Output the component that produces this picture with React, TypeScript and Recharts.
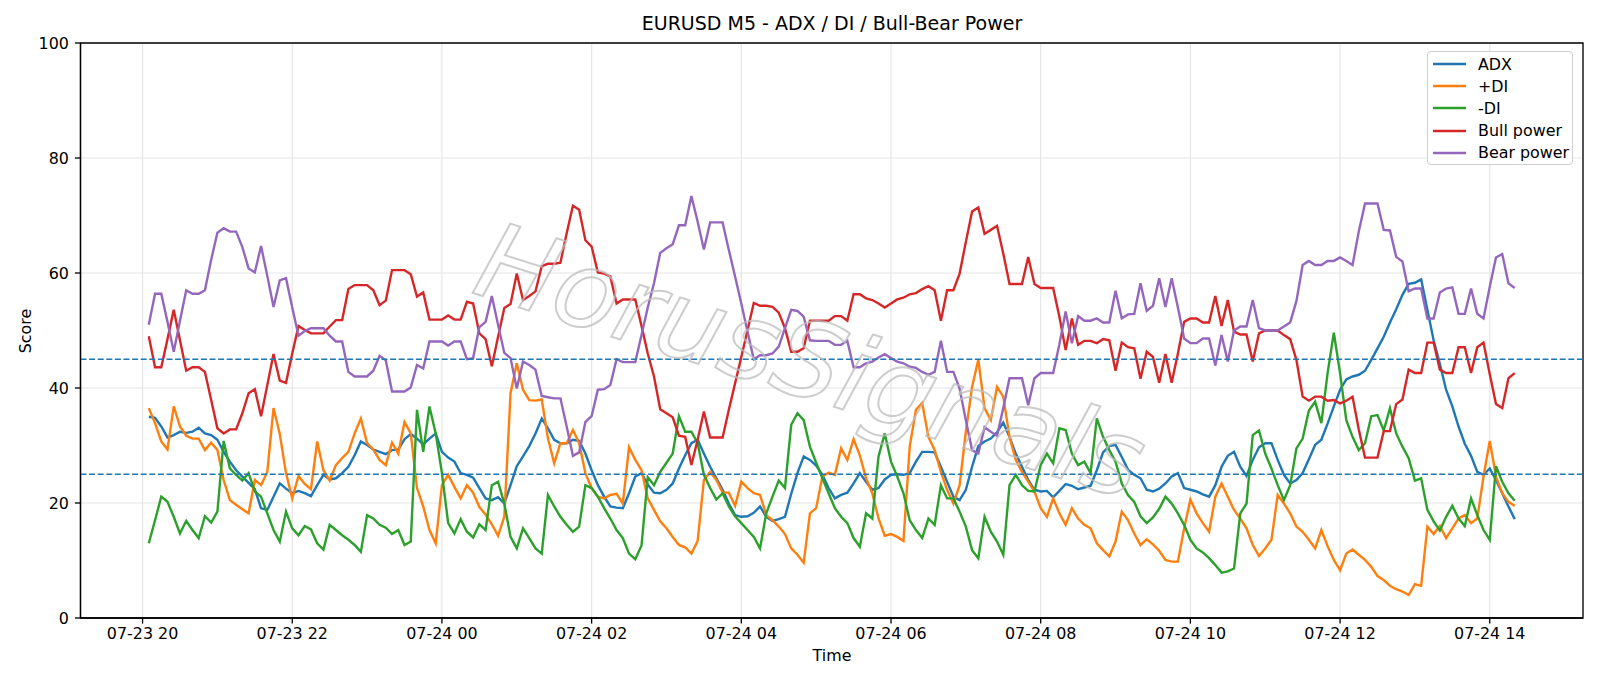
import React from 'react';
import { LineChart, Line, XAxis, YAxis, CartesianGrid, ReferenceLine, ReferenceArea } from 'recharts';

// 5-minute bars, minutes counted from 07-23 20:00
const FIRST_BAR_MIN = 5;
const BAR_MIN = 5;

const adx = [
  35.0, 34.8, 33.3, 31.4, 31.8, 32.4, 32.2, 32.4, 33.1, 32.1,
  31.8, 31.0, 28.9, 27.2, 25.7, 24.6, 23.5, 22.4, 19.1, 18.8,
  21.1, 23.4, 22.5, 21.7, 22.1, 21.7, 21.2, 23.1, 24.9, 24.1,
  24.3, 25.2, 26.3, 28.3, 30.7, 30.1, 29.3, 28.9, 28.5, 29.2,
  29.3, 31.1, 32.0, 31.2, 30.2, 31.2, 32.1, 28.9, 27.9, 27.2,
  25.2, 24.9, 24.4, 22.6, 20.8, 20.5, 21.0, 19.9, 23.1, 26.4,
  28.1, 29.9, 32.1, 34.7, 33.0, 31.0, 30.4, 30.4, 31.0, 30.8,
  28.6, 25.7, 23.1, 21.1, 19.4, 19.2, 19.1, 21.7, 24.6, 25.2,
  23.2, 21.8, 21.7, 22.3, 23.4, 26.0, 28.3, 30.4, 31.0, 28.6,
  26.3, 24.3, 22.3, 19.9, 17.9, 17.6, 17.7, 18.3, 19.4, 17.6,
  16.9, 17.2, 17.6, 21.6, 25.2, 28.1, 27.5, 26.5, 24.9, 22.6,
  20.8, 21.4, 21.8, 23.4, 25.2, 23.7, 22.3, 22.6, 24.1, 24.9,
  25.0, 24.9, 25.2, 27.2, 28.9, 28.9, 28.8, 26.3, 23.7, 21.1,
  20.5, 22.3, 26.3, 29.9, 30.7, 31.2, 32.3, 34.0, 31.5, 28.6,
  26.3, 24.0, 22.3, 22.0, 22.1, 21.0, 22.1, 23.3, 23.0, 22.4,
  22.7, 23.0, 25.7, 28.8, 29.9, 30.1, 28.0, 25.8, 24.9, 24.3,
  22.3, 22.0, 22.5, 23.4, 24.6, 25.2, 22.6, 22.3, 22.0, 21.5,
  21.1, 23.1, 26.3, 28.2, 28.9, 26.3, 24.7, 27.5, 29.7, 30.4,
  30.4, 27.5, 24.9, 23.4, 24.0, 25.2, 27.6, 30.1, 31.0, 33.8,
  36.8, 39.7, 41.5, 42.0, 42.3, 43.0, 44.9, 46.9, 48.9, 51.4,
  53.7, 56.2, 58.1, 58.3, 58.9, 53.6, 48.3, 44.2, 39.7, 36.8,
  33.3, 30.3, 28.2, 25.4, 24.9, 26.0, 24.0, 21.7, 19.4, 17.2,
];

const plusDi = [
  36.5, 33.9, 30.7, 29.3, 36.8, 33.3, 31.7, 31.2, 31.2, 29.2,
  30.5, 29.2, 24.0, 20.5, 19.7, 18.9, 18.2, 24.0, 23.1, 25.4,
  36.5, 32.0, 25.2, 20.8, 24.7, 23.3, 22.4, 30.7, 25.7, 23.9,
  26.6, 27.8, 28.9, 32.1, 34.7, 30.4, 29.3, 27.5, 26.6, 30.5,
  28.6, 34.1, 32.1, 22.6, 19.4, 15.3, 13.0, 23.1, 24.9, 22.8,
  20.8, 23.1, 21.8, 19.3, 18.0, 16.3, 14.3, 17.6, 39.1, 44.3,
  39.7, 37.9, 37.8, 38.0, 31.2, 26.9, 30.4, 30.4, 32.7, 30.4,
  25.2, 22.6, 21.1, 20.8, 21.4, 21.6, 19.9, 29.7, 27.5, 25.7,
  20.8, 18.8, 16.8, 15.6, 14.1, 12.7, 12.3, 11.2, 13.4, 24.0,
  25.4, 24.0, 21.8, 21.8, 19.5, 23.7, 22.6, 21.7, 21.4, 17.9,
  17.0, 15.9, 14.6, 12.1, 11.0, 9.6, 18.2, 19.1, 24.6, 25.3,
  24.9, 29.5, 27.5, 31.1, 28.3, 24.3, 21.7, 17.3, 14.3, 14.6,
  14.1, 13.4, 29.8, 36.2, 37.4, 31.5, 29.2, 25.4, 22.3, 19.9,
  23.1, 32.4, 40.2, 44.9, 36.5, 34.4, 40.2, 38.5, 31.5, 27.5,
  25.4, 23.7, 22.0, 19.1, 17.6, 20.8, 18.2, 16.2, 19.1, 17.3,
  16.2, 15.6, 13.0, 11.8, 10.7, 13.3, 18.5, 17.0, 14.7, 12.7,
  13.7, 12.8, 11.7, 10.1, 9.8, 9.8, 15.6, 20.6, 18.2, 16.5,
  15.0, 21.1, 23.4, 21.1, 18.8, 17.3, 15.6, 12.7, 10.8, 12.1,
  13.6, 21.4, 19.9, 18.2, 15.9, 15.0, 13.6, 12.1, 15.3, 12.5,
  10.1, 8.3, 11.2, 11.9, 11.0, 10.1, 8.9, 7.3, 6.6, 5.6,
  5.0, 4.6, 4.0, 5.9, 5.6, 15.9, 14.6, 16.0, 13.9, 15.6,
  17.3, 17.9, 16.5, 17.3, 24.6, 30.8, 24.6, 21.7, 20.2, 19.5,
];

const minusDi = [
  13.0, 17.0, 21.1, 20.2, 17.6, 14.7, 16.9, 15.3, 13.9, 17.7,
  16.6, 18.5, 30.8, 26.0, 24.9, 23.9, 25.2, 22.0, 21.1, 18.2,
  15.3, 13.3, 18.5, 15.6, 14.4, 16.0, 15.4, 13.0, 11.9, 16.2,
  15.3, 14.4, 13.6, 12.7, 11.5, 17.9, 17.3, 16.2, 15.7, 14.6,
  15.3, 12.7, 13.3, 36.2, 28.9, 36.8, 32.1, 25.2, 16.5, 14.7,
  17.2, 15.0, 14.0, 16.3, 15.3, 23.1, 23.7, 19.9, 14.1, 12.1,
  15.6, 13.9, 12.1, 11.2, 21.4, 19.4, 17.6, 16.2, 15.0, 15.9,
  23.1, 22.6, 21.1, 19.1, 17.3, 15.3, 13.9, 11.2, 10.2, 12.6,
  24.5, 23.1, 25.4, 27.0, 28.6, 35.1, 32.4, 32.4, 30.4, 24.9,
  22.6, 20.6, 21.7, 19.4, 17.7, 16.5, 15.3, 14.1, 12.1, 18.2,
  21.1, 23.9, 22.6, 33.6, 35.6, 34.4, 29.8, 27.0, 24.3, 21.7,
  19.1, 17.6, 16.5, 13.9, 12.4, 18.2, 17.3, 28.1, 32.1, 27.2,
  24.6, 21.7, 17.0, 15.3, 13.9, 17.3, 16.2, 23.1, 20.8, 20.8,
  18.5, 15.9, 11.8, 10.4, 17.6, 15.0, 13.3, 11.0, 23.1, 24.9,
  23.1, 22.1, 22.0, 26.6, 28.6, 26.9, 33.0, 32.7, 28.6, 26.6,
  27.2, 25.2, 34.7, 31.5, 29.2, 27.2, 23.4, 21.4, 20.2, 17.7,
  16.5, 17.5, 19.0, 21.1, 19.9, 18.2, 16.2, 13.6, 12.1, 11.4,
  10.4, 9.2, 7.9, 8.1, 8.6, 18.2, 19.9, 31.8, 32.6, 28.6,
  26.0, 23.1, 20.5, 23.1, 29.5, 31.2, 36.1, 37.6, 33.9, 42.6,
  49.6, 42.6, 34.4, 31.5, 29.2, 30.4, 35.1, 35.3, 32.6, 36.5,
  32.1, 29.8, 27.8, 23.9, 24.3, 18.8, 16.8, 15.2, 17.6, 19.5,
  17.3, 16.0, 20.8, 17.9, 15.3, 13.6, 26.4, 23.7, 21.7, 20.4,
];

const bullPower = [
  49.0, 43.6, 43.6, 48.5, 53.6, 48.3, 43.0, 43.6, 43.6, 42.8,
  37.9, 33.0, 32.1, 32.8, 32.8, 35.6, 39.1, 39.8, 35.1, 40.5,
  45.9, 41.3, 40.9, 46.0, 50.8, 50.1, 49.5, 49.5, 49.5, 50.7,
  51.8, 51.8, 57.2, 57.9, 57.9, 57.9, 57.0, 54.4, 55.2, 60.5,
  60.5, 60.5, 59.8, 55.9, 56.6, 51.9, 51.9, 51.9, 52.6, 51.9,
  51.9, 55.0, 54.7, 49.5, 48.5, 43.8, 48.9, 53.9, 54.6, 59.9,
  55.3, 56.0, 56.8, 61.2, 61.6, 61.6, 61.8, 66.9, 71.7, 71.0,
  65.7, 64.6, 60.1, 59.9, 59.4, 54.7, 55.4, 55.4, 55.4, 50.8,
  46.0, 42.0, 36.3, 35.6, 34.9, 31.7, 31.5, 26.6, 31.0, 35.9,
  31.4, 31.4, 31.4, 36.2, 40.8, 45.4, 50.1, 54.8, 54.3, 54.3,
  54.1, 53.1, 50.4, 46.3, 46.3, 46.9, 51.7, 51.7, 51.7, 51.7,
  52.5, 52.5, 51.7, 56.3, 56.3, 55.6, 55.3, 54.7, 54.0, 54.7,
  55.4, 55.7, 56.3, 56.5, 57.2, 57.7, 57.0, 51.7, 57.0, 57.0,
  59.9, 65.4, 70.7, 71.4, 66.8, 67.5, 68.2, 63.4, 58.1, 58.1,
  58.1, 62.8, 58.1, 57.4, 57.4, 57.4, 52.4, 46.6, 52.1, 47.5,
  48.2, 48.2, 47.8, 48.5, 48.3, 43.0, 47.9, 47.1, 46.9, 41.6,
  46.3, 45.4, 40.9, 45.9, 40.9, 46.0, 51.5, 52.1, 52.1, 51.4,
  51.4, 56.0, 50.8, 55.3, 49.8, 49.3, 49.3, 44.6, 49.5, 50.0,
  50.0, 50.0, 49.2, 48.5, 44.9, 38.5, 37.8, 38.5, 38.5, 37.8,
  37.9, 37.3, 37.8, 38.5, 32.8, 27.9, 27.9, 27.9, 32.5, 32.5,
  37.2, 38.0, 43.2, 42.6, 42.6, 47.9, 47.9, 43.2, 42.6, 42.6,
  47.1, 47.1, 42.6, 47.1, 47.9, 42.4, 37.2, 36.5, 41.7, 42.6,
];

const bearPower = [
  51.0, 56.4, 56.4, 51.5, 46.3, 51.7, 57.0, 56.4, 56.4, 57.0,
  62.3, 67.0, 67.8, 67.2, 67.2, 64.5, 60.8, 60.1, 64.7, 59.5,
  54.1, 58.7, 59.1, 54.0, 49.1, 49.9, 50.4, 50.4, 50.4, 49.1,
  48.1, 48.1, 42.8, 42.0, 42.0, 42.0, 43.0, 45.6, 44.8, 39.4,
  39.4, 39.4, 40.1, 44.0, 43.4, 48.1, 48.1, 48.1, 47.4, 48.1,
  48.1, 45.0, 45.2, 50.6, 51.5, 56.0, 51.0, 46.1, 45.2, 39.9,
  44.6, 44.0, 43.2, 38.6, 38.4, 38.2, 38.2, 33.3, 28.2, 28.8,
  34.1, 35.1, 39.7, 39.8, 40.5, 45.0, 44.5, 44.5, 44.5, 49.2,
  54.0, 58.2, 63.5, 64.3, 65.0, 68.3, 68.3, 73.4, 68.9, 64.1,
  68.8, 68.8, 68.8, 64.0, 59.4, 54.7, 49.8, 45.0, 45.7, 45.7,
  46.0, 47.2, 50.4, 53.6, 53.4, 52.4, 48.3, 48.2, 48.2, 48.2,
  47.5, 47.5, 48.2, 43.6, 43.6, 44.3, 44.6, 45.3, 45.9, 45.2,
  44.6, 44.3, 43.7, 43.5, 42.8, 42.3, 42.8, 48.2, 42.8, 42.8,
  39.9, 34.4, 29.2, 28.6, 33.2, 32.4, 31.7, 36.5, 41.7, 41.7,
  41.7, 37.0, 41.7, 42.6, 42.6, 42.6, 47.6, 53.3, 47.8, 52.5,
  51.7, 51.7, 52.1, 51.4, 51.4, 56.9, 52.1, 52.8, 52.9, 58.2,
  53.4, 54.3, 59.1, 54.1, 59.1, 54.0, 48.6, 47.8, 47.8, 48.6,
  48.6, 43.9, 49.2, 44.6, 50.0, 50.7, 50.7, 55.3, 50.4, 50.0,
  50.0, 50.0, 50.7, 51.4, 55.1, 61.4, 62.1, 61.4, 61.4, 62.1,
  62.1, 62.7, 62.1, 61.4, 67.2, 72.1, 72.1, 72.1, 67.5, 67.4,
  62.8, 62.0, 56.8, 57.3, 57.3, 52.1, 52.1, 56.6, 57.3, 57.5,
  52.9, 52.9, 57.3, 52.9, 52.1, 57.6, 62.7, 63.3, 58.2, 57.4,
];

const xTicks = [0, 120, 240, 360, 480, 600, 720, 840, 960, 1080];
const xTickLabels = [
  '07-23 20', '07-23 22', '07-24 00', '07-24 02', '07-24 04',
  '07-24 06', '07-24 08', '07-24 10', '07-24 12', '07-24 14',
];
const yTicks = [0, 20, 40, 60, 80, 100];
const thresholdLevels = [45, 25];

const series = [
  { key: 'adx', name: 'ADX', color: '#1f77b4', values: adx },
  { key: 'plusDi', name: '+DI', color: '#ff7f0e', values: plusDi },
  { key: 'minusDi', name: '-DI', color: '#2ca02c', values: minusDi },
  { key: 'bull', name: 'Bull power', color: '#d62728', values: bullPower },
  { key: 'bear', name: 'Bear power', color: '#9467bd', values: bearPower },
];

const data = adx.map((_, i) => {
  const row: Record<string, number> = { t: FIRST_BAR_MIN + BAR_MIN * i };
  series.forEach((s) => { row[s.key] = s.values[i]; });
  return row;
});

// matplotlib-like 5% margin around the data span
const span = data[data.length - 1].t - data[0].t;
const xDomain = [data[0].t - span * 0.05, data[data.length - 1].t + span * 0.05];

const FONT = '"DejaVu Sans", Verdana, sans-serif';
const TICK_FONT = 15.9;

const Legend: React.FC = () => (
  <div
    style={{
      position: 'absolute', left: 1427, top: 51, width: 146, height: 114,
      border: '1px solid #d0d0d0', borderRadius: 4, background: 'rgba(255,255,255,0.85)',
      fontFamily: FONT, fontSize: TICK_FONT, boxSizing: 'border-box',
    }}
  >
    {series.map((s, i) => (
      <div key={s.key} style={{ position: 'absolute', left: 5, top: 1 + i * 22.2, height: 22, display: 'flex', alignItems: 'center' }}>
        <svg width={33} height={4} style={{ marginRight: 12 }}>
          <line x1={0} y1={2} x2={33} y2={2} stroke={s.color} strokeWidth={2.4} />
        </svg>
        <span style={{ color: '#000', whiteSpace: 'nowrap' }}>{s.name}</span>
      </div>
    ))}
  </div>
);

const App: React.FC = () => {
  return (
    <div style={{ position: 'absolute', left: 0, top: 0, width: 1600, height: 686, background: '#fff' }}>
      <LineChart width={1600} height={686} data={data} margin={{ top: 43, right: 17, bottom: 0, left: 0.5 }}>
        <CartesianGrid stroke="#e6e6e6" strokeWidth={1.2} />
        <XAxis
          dataKey="t"
          type="number"
          domain={xDomain}
          ticks={xTicks}
          interval={0}
          allowDataOverflow
          height={68}
          tickFormatter={(v: number) => xTickLabels[xTicks.indexOf(v)]}
          tick={{ fill: '#000', fontSize: TICK_FONT, fontFamily: FONT }}
          tickSize={5.6}
          tickMargin={4}
          axisLine={{ stroke: '#000', strokeWidth: 1.3 }}
          tickLine={{ stroke: '#000', strokeWidth: 1.3 }}
        />
        <YAxis
          type="number"
          domain={[0, 100]}
          ticks={yTicks}
          interval={0}
          width={80}
          tick={{ fill: '#000', fontSize: TICK_FONT, fontFamily: FONT }}
          tickSize={5.6}
          tickMargin={6}
          axisLine={{ stroke: '#000', strokeWidth: 1.3 }}
          tickLine={{ stroke: '#000', strokeWidth: 1.3 }}
        />
        {series.map((s) => (
          <Line
            key={s.key}
            dataKey={s.key}
            name={s.name}
            type="linear"
            stroke={s.color}
            strokeWidth={2.4}
            dot={false}
            isAnimationActive={false}
          />
        ))}
        {thresholdLevels.map((lvl) => (
          <ReferenceLine key={lvl} y={lvl} stroke="#1f77b4" strokeWidth={1.6} strokeDasharray="6 2.6" />
        ))}
        <ReferenceArea
          x1={xDomain[0]} x2={xDomain[1]} y1={0} y2={100}
          fill="none" fillOpacity={0} stroke="#000" strokeWidth={1.3} ifOverflow="visible"
        />
      </LineChart>

      <svg width={1600} height={686} style={{ position: 'absolute', left: 0, top: 0, pointerEvents: 'none' }}>
        <text
          x={470} y={292}
          transform="rotate(17.5 470 292)"
          fontFamily={FONT} fontStyle="italic" fontSize={106}
          fill="none" stroke="#bdbdbd" strokeWidth={2} opacity={0.75}
        >
          HorusSignals
        </text>
        <text x={832} y={30} textAnchor="middle" fontFamily={FONT} fontSize={19} fill="#000">
          EURUSD M5 - ADX / DI / Bull-Bear Power
        </text>
        <text x={832} y={661} textAnchor="middle" fontFamily={FONT} fontSize={TICK_FONT} fill="#000">
          Time
        </text>
        <text
          x={31} y={331} textAnchor="middle" transform="rotate(-90 31 331)"
          fontFamily={FONT} fontSize={TICK_FONT} fill="#000"
        >
          Score
        </text>
      </svg>
      <Legend />
    </div>
  );
};

export default App;
